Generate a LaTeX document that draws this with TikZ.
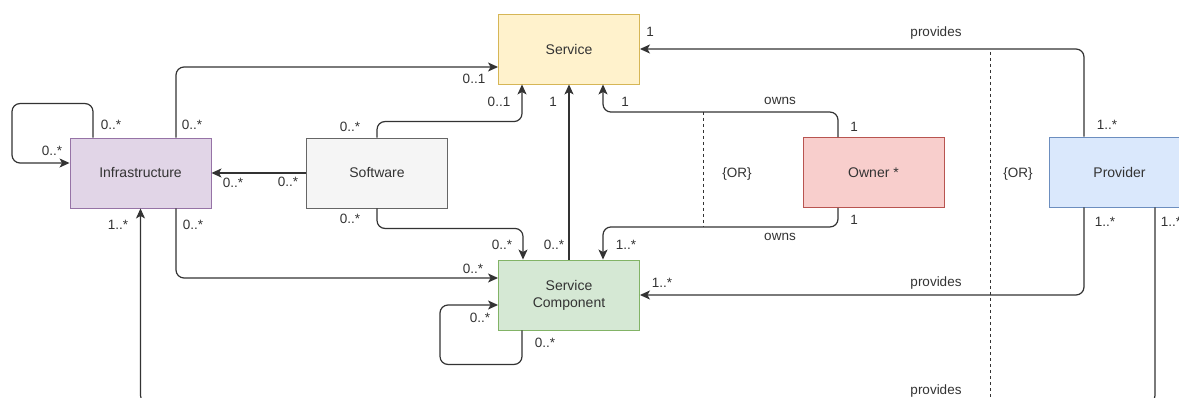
\documentclass[tikz,border=0pt]{standalone}
\usepackage{fontspec}
\setmainfont{Liberation Sans}
\usetikzlibrary{arrows.meta}
\definecolor{svcfill}{HTML}{FFF2CC}\definecolor{svcdraw}{HTML}{D6B656}
\definecolor{inffill}{HTML}{E1D5E7}\definecolor{infdraw}{HTML}{9673A6}
\definecolor{swfill}{HTML}{F5F5F5}\definecolor{swdraw}{HTML}{666666}
\definecolor{scfill}{HTML}{D5E8D4}\definecolor{scdraw}{HTML}{82B366}
\definecolor{ownfill}{HTML}{F8CECC}\definecolor{owndraw}{HTML}{B85450}
\definecolor{provfill}{HTML}{DAE8FC}\definecolor{provdraw}{HTML}{6C8EBF}
\definecolor{ln}{HTML}{333333}
\definecolor{txt}{HTML}{333333}
\begin{document}
\begin{tikzpicture}[x=1pt,y=-1pt,
  box/.style={draw, minimum width=141pt, minimum height=70pt, inner sep=0pt,
    font=\fontsize{14}{17}\selectfont, text=txt, align=center, line width=0.9pt},
  conn/.style={draw=ln, line width=1.2pt, rounded corners=8pt},
  arr/.style={conn, -{Stealth[length=10pt,width=9pt,inset=2.5pt]}},
  lab/.style={font=\fontsize{13.5}{16}\selectfont, text=txt, inner sep=0pt},
  orline/.style={draw=ln, line width=1pt, dash pattern=on 3pt off 3pt}]
\useasboundingbox (0,0) rectangle (1179,398);
\clip (0,0) rectangle (1179,398);
\fill[white] (0,0) rectangle (1179,398);

% boxes
\node[box, fill=svcfill, draw=svcdraw] (svc) at (569,49) {Service};
\node[box, fill=inffill, draw=infdraw] (inf) at (140.5,173) {Infrastructure};
\node[box, fill=swfill, draw=swdraw] (sw) at (377,173) {Software};
\node[box, fill=scfill, draw=scdraw] (sc) at (569,295) {Service\\Component};
\node[box, fill=ownfill, draw=owndraw] (own) at (873.5,172.5) {Owner *};
\node[box, fill=provfill, draw=provdraw] (prov) at (1119.5,172) {Provider};

% dashed OR lines
\draw[orline] (703,112) -- (703,227);
\draw[orline] (990,52) -- (990,400);

% connectors
\draw[arr] ([xshift=-47.5pt]inf.north) -- ++(0,-34) -- ++(-81,0) |- ([yshift=10pt]inf.west);
\draw[arr] ([xshift=35.5pt]inf.north) |- ([yshift=-18pt]svc.west);
\draw[arr] (sw.west) -- (inf.east);
\draw[arr] (sw.north) -- ++(0,-16) -| ([xshift=-47pt]svc.south);
\draw[arr] (sw.south) -- ++(0,20) -| ([xshift=-46pt]sc.north);
\draw[arr] (sc.north) -- (svc.south);
\draw[arr] ([xshift=35.5pt]inf.south) |- ([yshift=17pt]sc.west);
\draw[arr] ([xshift=-47pt]sc.south) -- ++(0,34) -- ++(-82,0) |- ([yshift=-10pt]sc.west);
\draw[arr] ([xshift=-35.5pt]own.north) -- ++(0,-25) -| ([xshift=34pt]svc.south);
\draw[arr] ([xshift=-35.5pt]own.south) -- ++(0,19) -| ([xshift=34pt]sc.north);
\draw[arr] ([xshift=-35.5pt]prov.north) |- (svc.east);
\draw[arr] ([xshift=-35.5pt]prov.south) |- (sc.east);
\draw[arr] ([xshift=35.5pt]prov.south) -- ++(0,196) -| (inf.south);

% labels
\node[lab] (l1) at (111,125) {0..*};
\node[lab] (l2) at (52,151) {0..*};
\node[lab] (l3) at (192,125) {0..*};
\node[lab] (l4) at (474,79) {0..1};
\node[lab] (l5) at (233,183) {0..*};
\node[lab] (l6) at (288,182) {0..*};
\node[lab] (l7) at (350,127) {0..*};
\node[lab] (l8) at (499,102) {0..1};
\node[lab] (l9) at (350,219) {0..*};
\node[lab] (l10) at (502,245) {0..*};
\node[lab] (l11) at (553,102) {1};
\node[lab] (l12) at (554,245) {0..*};
\node[lab] (l13) at (193,225) {0..*};
\node[lab] (l14) at (473,269) {0..*};
\node[lab] (l15) at (545,343) {0..*};
\node[lab] (l16) at (480,318) {0..*};
\node[lab] (l17) at (780,101) {owns};
\node[lab] (l18) at (854,127) {1};
\node[lab] (l19) at (625,102) {1};
\node[lab] (l20) at (780,237) {owns};
\node[lab] (l21) at (854,220) {1};
\node[lab] (l22) at (626,245) {1..*};
\node[lab] (l23) at (737,174) {\{OR\}};
\node[lab] (l24) at (1018,174) {\{OR\}};
\node[lab] (l25) at (936,33) {provides};
\node[lab] (l26) at (650,32) {1};
\node[lab] (l27) at (1107,125) {1..*};
\node[lab] (l28) at (936,283) {provides};
\node[lab] (l29) at (1105,222) {1..*};
\node[lab] (l30) at (662,283) {1..*};
\node[lab] (l31) at (936,391) {provides};
\node[lab] (l32) at (1171,222) {1..*};
\node[lab] (l33) at (118,225) {1..*};
\end{tikzpicture}
\end{document}
